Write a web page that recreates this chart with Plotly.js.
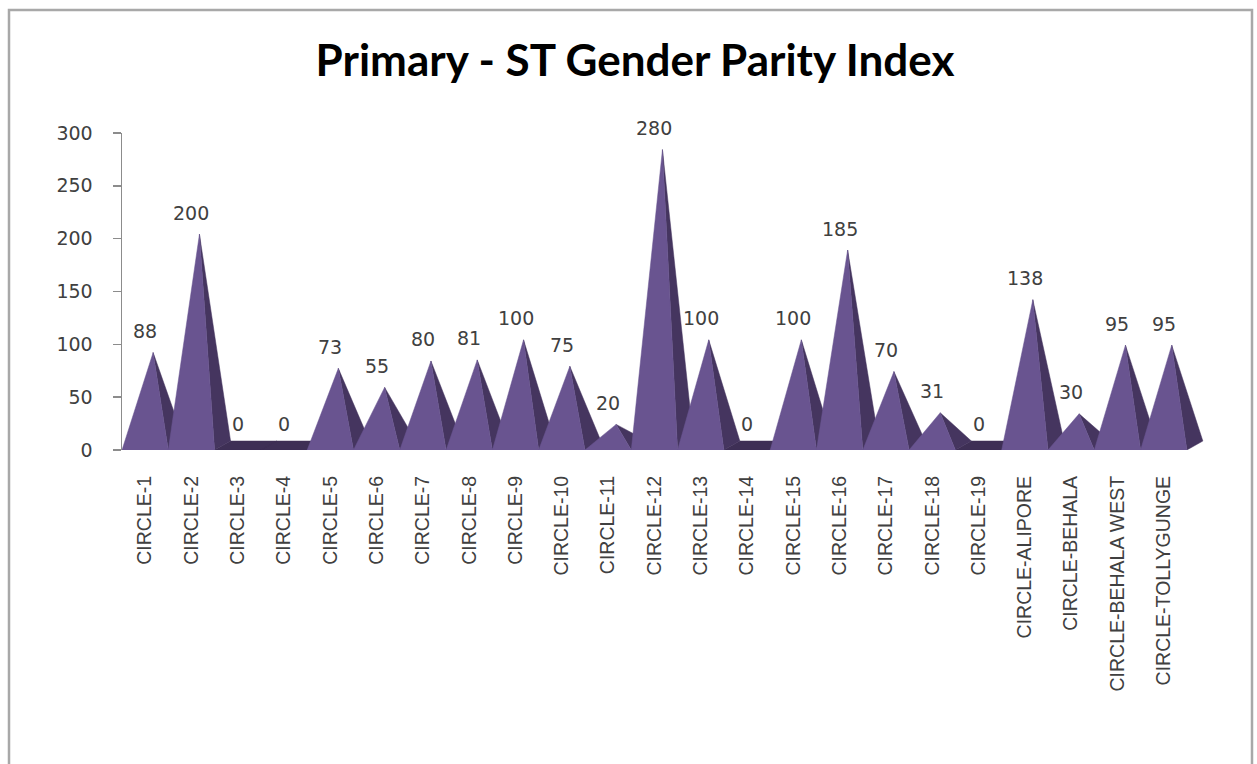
<!DOCTYPE html>
<html>
<head>
<meta charset="utf-8">
<script src="https://cdn.plot.ly/plotly-3.0.1.min.js"></script>
<style>
  html, body { margin: 0; padding: 0; background: #ffffff; }
  #chart { width: 1257px; height: 764px; }
</style>
</head>
<body>
<div id="chart"></div>
<script>
// Circle names along the category axis
const categories = [
  "CIRCLE-1", "CIRCLE-2", "CIRCLE-3", "CIRCLE-4", "CIRCLE-5", "CIRCLE-6",
  "CIRCLE-7", "CIRCLE-8", "CIRCLE-9", "CIRCLE-10", "CIRCLE-11", "CIRCLE-12",
  "CIRCLE-13", "CIRCLE-14", "CIRCLE-15", "CIRCLE-16", "CIRCLE-17", "CIRCLE-18",
  "CIRCLE-19", "CIRCLE-ALIPORE", "CIRCLE-BEHALA", "CIRCLE-BEHALA WEST",
  "CIRCLE-TOLLYGUNGE"
];

// Gender parity index per circle
const gpiValues = [
  88, 200, 0, 0, 73, 55, 80, 81, 100, 75, 20, 280,
  100, 0, 100, 185, 70, 31, 0, 138, 30, 95, 95
];

// Value axis ticks
const yTicks = [0, 50, 100, 150, 200, 250, 300];

// ---- styling / geometry ----
const FRONT = "#695490";
const SIDE = "#45355f";
const SLAB = "#3e2f55";
const DEPTH_X = 0.345;   // receding depth of each pyramid, in category units
const DEPTH_Y = 8.5;     // receding depth, in value units

const W = 1257, H = 764;
const M = { l: 122, r: 52, t: 133, b: 314 };
const plotW = W - M.l - M.r, plotH = H - M.t - M.b;
const px2x = p => (p - M.l) / plotW;       // page pixel -> paper x
const px2y = p => (H - M.b - p) / plotH;   // page pixel -> paper y

// Build polygons for the pyramid faces (null separates polygons)
const front = { x: [], y: [] };
const side = { x: [], y: [] };
const slab = { x: [], y: [] };
gpiValues.forEach((v, i) => {
  const x0 = i - 0.5, x1 = i + 0.5;
  if (v === 0) {
    // flat base plate seen from above
    slab.x.push(x0, x1, x1 + DEPTH_X, x0 + DEPTH_X, x0, null);
    slab.y.push(0, 0, DEPTH_Y, DEPTH_Y, 0, null);
    return;
  }
  const ax = i + DEPTH_X / 2, ay = v + DEPTH_Y / 2;
  front.x.push(x0, x1, ax, x0, null);
  front.y.push(0, 0, ay, 0, null);
  side.x.push(x1, x1 + DEPTH_X, ax, x1, null);
  side.y.push(0, DEPTH_Y, ay, 0, null);
});

const idx = categories.map((_, i) => i);

const face = (poly, color) => ({
  type: "scatter", mode: "lines", x: poly.x, y: poly.y,
  fill: "toself", fillcolor: color, line: { color: color, width: 0.5 },
  hoverinfo: "skip", showlegend: false
});

const traces = [face(slab, SLAB), face(side, SIDE), face(front, FRONT)];

// Value labels above each pyramid
const annotations = gpiValues.map((v, i) => ({
  x: i, y: v, xref: "x", yref: "y",
  text: String(v), showarrow: false,
  xanchor: "center", yanchor: "middle", yshift: 26,
  font: { family: "DejaVu Sans", size: 19, color: "#404040" }
}));

const layout = {
  width: W, height: H,
  margin: M,
  paper_bgcolor: "#ffffff",
  plot_bgcolor: "rgba(0,0,0,0)",
  showlegend: false,
  title: {
    text: "<b>Primary - ST Gender Parity Index</b>",
    xref: "container", x: 635 / W, xanchor: "center",
    yref: "container", y: 1 - 61 / H, yanchor: "middle",
    font: { family: "Lato, sans-serif", size: 44, color: "#000000" }
  },
  xaxis: {
    range: [-0.5, plotW / 46.3 - 0.5],
    tickmode: "array", tickvals: idx, ticktext: categories,
    tickangle: -90, ticks: "", ticklabelstandoff: 21,
    showline: false, showgrid: false, zeroline: false,
    tickfont: { family: "Liberation Sans", size: 19.5, color: "#404040" },
    fixedrange: true
  },
  yaxis: {
    range: [0, 300],
    tickmode: "array", tickvals: yTicks,
    ticks: "outside", ticklen: 8, tickcolor: "#8c8c8c", tickwidth: 1.5,
    showline: true, linecolor: "#8c8c8c", linewidth: 1.5,
    showgrid: false, zeroline: false, ticklabelstandoff: 16,
    tickfont: { family: "DejaVu Sans", size: 19, color: "#404040" },
    fixedrange: true
  },
  shapes: [
    // floor edge along the category axis
    {
      type: "line", xref: "x", yref: "y",
      x0: -0.7, x1: categories.length - 0.5, y0: 0, y1: 0,
      line: { color: "#a6a6a6", width: 2 }, layer: "below"
    },
    // chart frame
    {
      type: "rect", xref: "paper", yref: "paper",
      x0: px2x(9), x1: px2x(1252), y0: px2y(790), y1: px2y(10),
      line: { color: "#a8a8a8", width: 2.5 }, layer: "below"
    }
  ],
  annotations: annotations
};

Plotly.newPlot("chart", traces, layout, { displayModeBar: false, staticPlot: true });
</script>
</body>
</html>
